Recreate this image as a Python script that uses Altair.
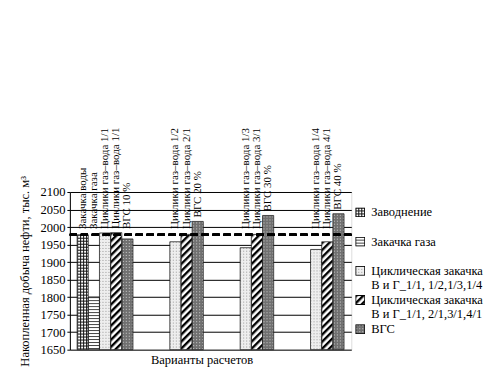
import base64
import altair as alt
import pandas as pd

# ---------------- data ----------------
S_WATER = "Заводнение"
S_GAS = "Закачка газа"
S_CA = "Циклическая закачка\nВ и Г_1/1, 1/2,1/3,1/4"
S_CB = "Циклическая закачка\nВ и Г_1/1, 2/1,3/1,4/1"
S_VGS = "ВГС"
series_order = [S_WATER, S_GAS, S_CA, S_CB, S_VGS]

variants = ["1", "1", "1", "1", "1",
            "2", "2", "2",
            "3", "3", "3",
            "4", "4", "4"]
series = [S_WATER, S_GAS, S_CA, S_CB, S_VGS,
          S_CA, S_CB, S_VGS,
          S_CA, S_CB, S_VGS,
          S_CA, S_CB, S_VGS]
bar_labels = ["Закачка воды", "Закачка газа", "Циклики газ–вода 1/1", "Циклики газ–вода 1/1", "ВГС 10 %",
              "Циклики газ–вода 1/2", "Циклики газ–вода 2/1", "ВГС 20 %",
              "Циклики газ–вода 1/3", "Циклики газ–вода 3/1", "ВГС 30 %",
              "Циклики газ–вода 1/4", "Циклики газ–вода 4/1", "ВГС 40 %"]
values = [1978, 1800, 1983, 1984, 1966,
          1958, 1979, 2016,
          1941, 1979, 2033,
          1936, 1958, 2038]
baseline_value = 1978          # dashed reference line (waterflooding)
label_floor = 1983
y_min, y_max = 1650, 2100
y_ticks = [1650, 1700, 1750, 1800, 1850, 1900, 1950, 2000, 2050, 2100]

# ---------------- fill patterns (SVG images) ----------------
PATTERNS = {
    S_WATER: ('<pattern id="p" width="3" height="3" patternUnits="userSpaceOnUse">'
              '<rect width="3" height="3" fill="#fff"/>'
              '<path d="M0 0.5H3M0.5 0V3" stroke="#111" stroke-width="1"/></pattern>'),
    S_GAS: ('<pattern id="p" width="3" height="3" patternUnits="userSpaceOnUse">'
            '<rect width="3" height="3" fill="#fff"/>'
            '<rect width="3" height="1" fill="#444"/></pattern>'),
    S_CA: ('<pattern id="p" width="3" height="3" patternUnits="userSpaceOnUse">'
           '<rect width="3" height="3" fill="#eeeeee"/>'
           '<rect width="1" height="1" fill="#999"/></pattern>'),
    S_CB: ('<pattern id="p" width="5" height="5" patternUnits="userSpaceOnUse" '
           'patternTransform="rotate(45)">'
           '<rect width="5" height="5" fill="#fff"/>'
           '<rect width="2.4" height="5" fill="#000"/></pattern>'),
    S_VGS: ('<pattern id="p" width="3" height="3" patternUnits="userSpaceOnUse">'
            '<rect width="3" height="3" fill="#707070"/>'
            '<rect x="1" y="1" width="1" height="1" fill="#cfcfcf"/></pattern>'),
}


def uri(key, legend=False):
    if legend:
        svg = ('<svg xmlns="http://www.w3.org/2000/svg" width="10" height="10" viewBox="0 0 10 10">'
               '<defs>' + PATTERNS[key] + '</defs>'
               '<rect x="0.5" y="0.5" width="9" height="9" fill="url(#p)" stroke="#000"/></svg>')
    else:
        svg = ('<svg xmlns="http://www.w3.org/2000/svg" width="100%" height="100%">'
               '<defs>' + PATTERNS[key] + '</defs>'
               '<rect width="100%" height="100%" fill="url(#p)"/></svg>')
    return "data:image/svg+xml;base64," + base64.b64encode(svg.encode("utf-8")).decode()


styles = pd.DataFrame({
    "series": series_order,
    "url": [uri(k) for k in series_order],
    "lurl": [uri(k, legend=True) for k in series_order],
})

df = pd.DataFrame({"variant": variants, "series": series, "label": bar_labels, "value": values})

FONT = "Liberation Serif"
W, H = 282, 158
YTITLE = "Накопленная добыча нефти, тыс. м³"

yscale = alt.Scale(domain=[y_min, y_max], zero=False, nice=False)
yaxis = alt.Axis(values=y_ticks, format="d", title=YTITLE,
                 labelFont=FONT, labelFontSize=12.5, labelColor="black", labelPadding=2,
                 titleFont=FONT, titleFontSize=12.5, titleFontWeight="normal",
                 titleColor="black", titlePadding=8,
                 tickColor="black", tickSize=3, domainColor="black",
                 grid=True, gridColor="black", gridOpacity=1, gridWidth=1)
xenc = alt.X("variant:N", scale=alt.Scale(paddingInner=0, paddingOuter=0),
             axis=alt.Axis(labels=False, ticks=False, domain=False, title="Варианты расчетов",
                           titleFont=FONT, titleFontSize=12.5, titleFontWeight="normal",
                           titleColor="black", titlePadding=4, titleX=132))
xoff = alt.XOffset("series:N", sort=series_order,
                   scale=alt.Scale(domain=series_order, paddingInner=0, paddingOuter=0.65))

bars_img = alt.Chart(df).transform_lookup(
    lookup="series", from_=alt.LookupData(styles, "series", ["url"])
).mark_image(aspect=False).encode(
    x=xenc, xOffset=xoff,
    y=alt.Y("value:Q", scale=yscale, axis=yaxis, title=YTITLE),
    y2=alt.datum(y_min),
    url="url:N",
)

bars_outline = alt.Chart(df).mark_bar(fillOpacity=0, stroke="#222", strokeWidth=0.8).encode(
    x=xenc, xOffset=xoff,
    y=alt.Y("value:Q", scale=yscale, axis=yaxis, title=YTITLE),
    y2=alt.datum(y_min),
)

labels = alt.Chart(df).transform_calculate(
    label_y=f"max(datum.value, {label_floor})"
).mark_text(angle=270, align="left", baseline="middle", dx=4,
            font=FONT, fontSize=11, color="black").encode(
    x=xenc, xOffset=xoff,
    y=alt.Y("label_y:Q", scale=yscale, axis=yaxis, title=YTITLE),
    text="label:N",
)

ref = alt.Chart(df).mark_rule(strokeDash=[7, 4], strokeWidth=2, color="black").encode(
    y=alt.Y(datum=baseline_value, scale=yscale, axis=yaxis, title=YTITLE),
)

main = alt.layer(bars_img, bars_outline, labels, ref)

leg_df = pd.DataFrame({"series": series_order})
leg_y = alt.Y("series:N", sort=series_order,
              scale=alt.Scale(type="point", domain=series_order, padding=0.7), axis=None)
leg_img = alt.Chart(leg_df).transform_lookup(
    lookup="series", from_=alt.LookupData(styles, "series", ["lurl"])
).mark_image(width=10, height=10, aspect=False).encode(
    x=alt.value(W + 9), y=leg_y, url="lurl:N",
)
leg_txt = alt.Chart(leg_df).mark_text(align="left", baseline="middle", lineBreak="\n",
                                      font=FONT, fontSize=12.5, lineHeight=14, color="black").encode(
    x=alt.value(W + 20), y=leg_y, text="series:N",
)
legend = alt.layer(leg_img, leg_txt)

chart = alt.layer(main, legend).resolve_scale(y="independent").properties(
    width=W, height=H,
    autosize=alt.AutoSizeParams(type="none"),
    padding={"left": 62, "top": 184, "right": 142, "bottom": 21},
).configure_view(stroke="black", strokeWidth=1).configure(background="white")

chart.save("out.html", embed_options={"renderer": "svg", "actions": False})
